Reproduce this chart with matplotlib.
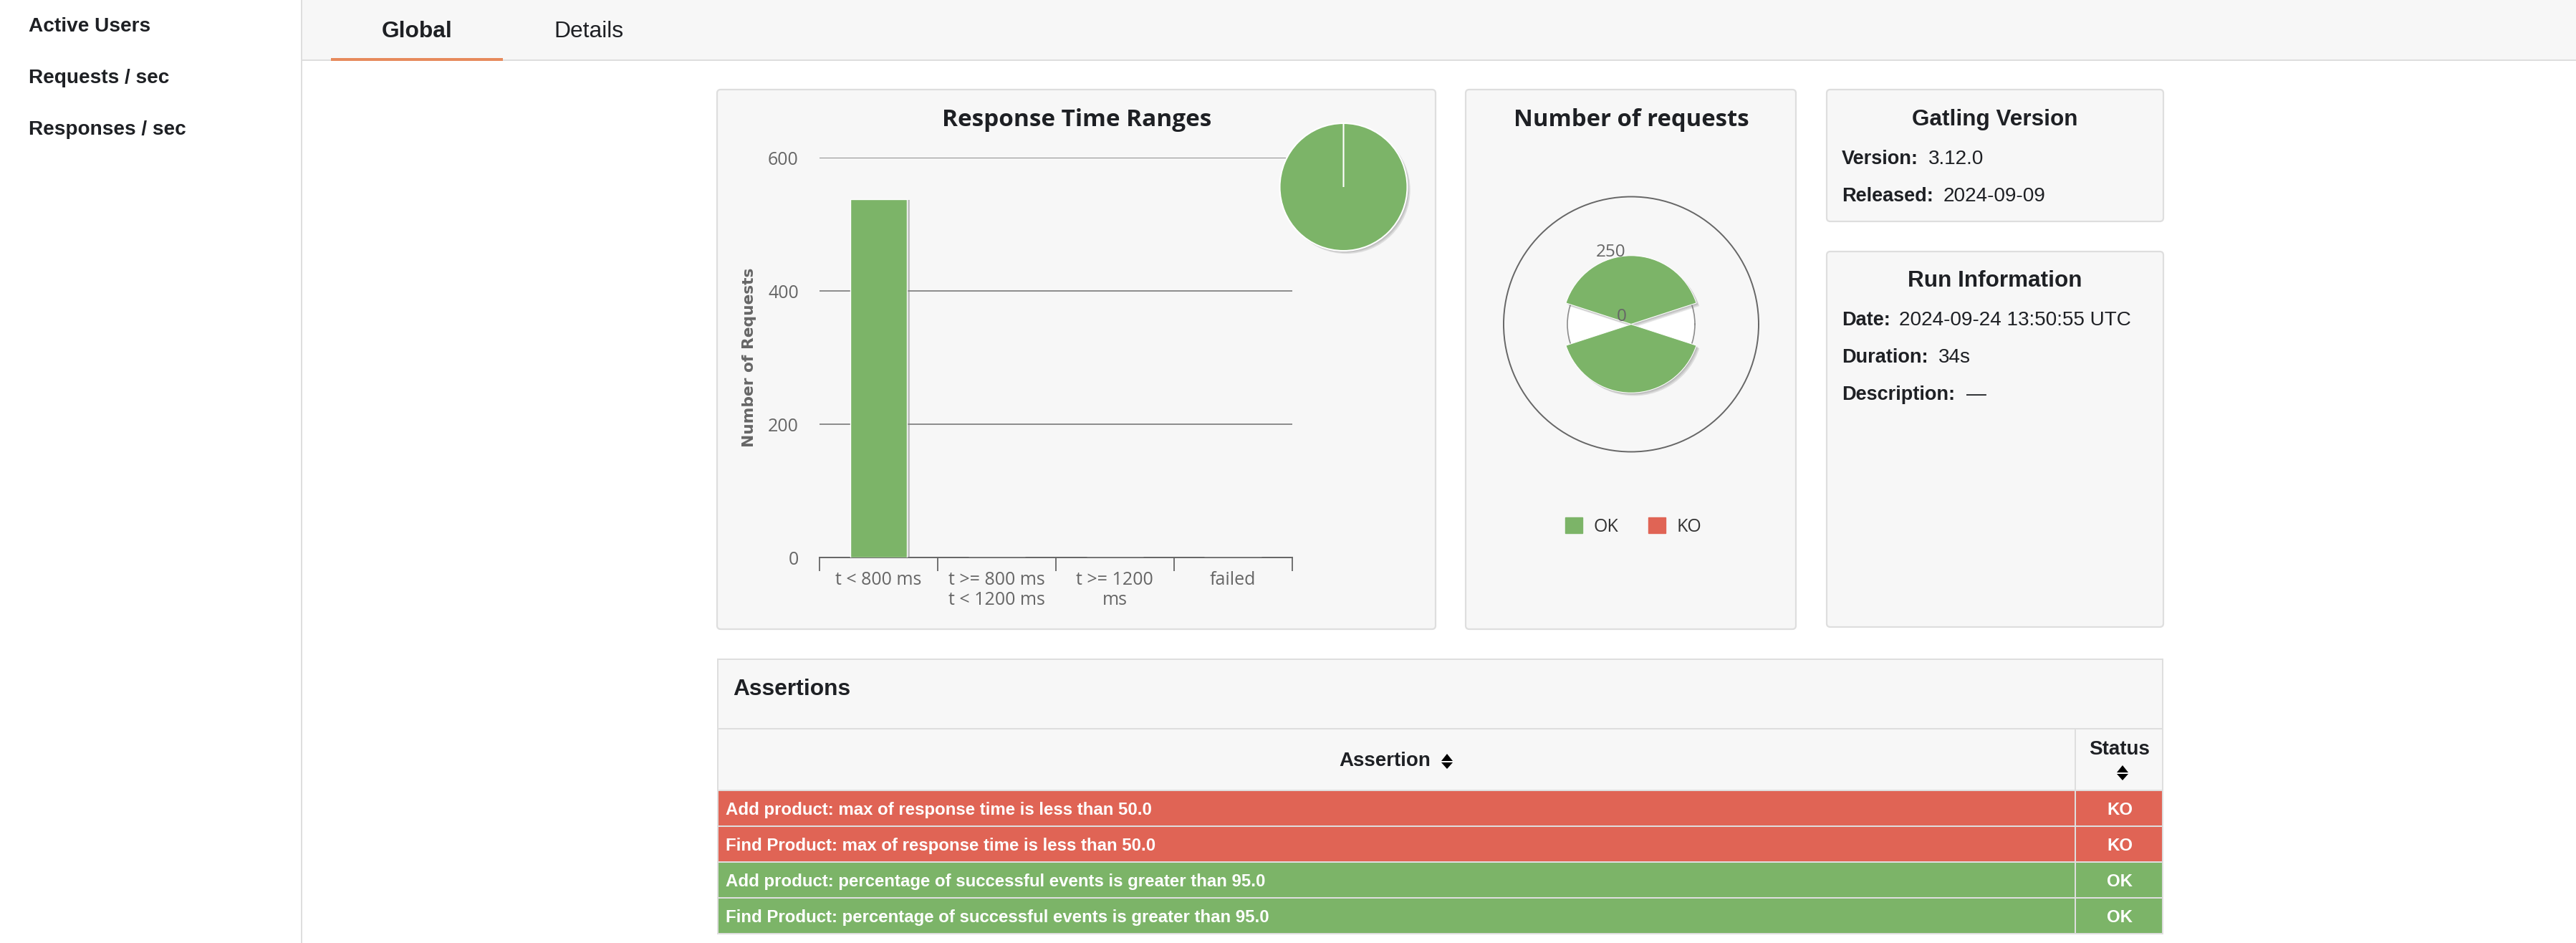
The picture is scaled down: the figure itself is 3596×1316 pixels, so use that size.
from matplotlib import pyplot as plt
from matplotlib.patches import Rectangle, FancyBboxPatch, Patch
import matplotlib.patheffects as pe
import numpy as np

W = 3596
H = 1316

# chart data
range_labels = ["t < 800 ms", "t >= 800 ms\nt < 1200 ms", "t >= 1200\nms", "failed"]
range_counts = [538, 0, 0, 0]
pie_counts = [538, 0]
request_angles = [90, 270]
request_counts = [269, 269]
legend_labels = ["OK", "KO"]

sidebar_items = ["Active Users", "Requests / sec", "Responses / sec"]
assertion_names = [
    "Add product: max of response time is less than 50.0",
    "Find Product: max of response time is less than 50.0",
    "Add product: percentage of successful events is greater than 95.0",
    "Find Product: percentage of successful events is greater than 95.0",
]
assertion_status = ["KO", "KO", "OK", "OK"]

GREEN = "#7CB468"
RED = "#E06455"
ORANGE = "#E78A5C"
CARD = "#F7F7F7"
LINE = "#DEDEDE"
DARK = "#1E2024"
GREY = "#666666"

plt.rcParams["font.family"] = ["Liberation Sans", "DejaVu Sans"]

# soft shadow, a few faint copies stacked
SOFT = [pe.SimplePatchShadow(offset=(k, -k), shadow_rgbFace="#777777", alpha=0.2) for k in (3, 2, 1)] + [pe.Normal()]


def box(x0, y0, x1, y1):
    # pixel box (y from the top) -> figure fraction rect
    return [x0 / W, 1 - y1 / H, (x1 - x0) / W, (y1 - y0) / H]


fig = plt.figure(figsize=(W / 100, H / 100), dpi=100, facecolor="white")

# page layer, works in plain pixels
bg = fig.add_axes([0, 0, 1, 1], zorder=0)
bg.set_xlim(0, W)
bg.set_ylim(H, 0)
bg.axis("off")


def rect(x0, y0, x1, y1, color, z=1):
    bg.add_patch(Rectangle((x0, y0), x1 - x0, y1 - y0, facecolor=color, edgecolor="none", zorder=z))


def card(x0, y0, x1, y1):
    bg.add_patch(FancyBboxPatch((x0 + 4, y0 + 4), x1 - x0 - 8, y1 - y0 - 8,
                                boxstyle="round,pad=4,rounding_size=5",
                                facecolor=CARD, edgecolor=LINE, linewidth=1.6, zorder=1))


def label(x, y, s, size=20, bold=False, color=DARK, ha="left", **kw):
    return bg.text(x, y, s, fontsize=size, fontweight="bold" if bold else "normal",
                   color=color, ha=ha, va="center_baseline", zorder=5, **kw)


def sort_arrows(x, y0, y1, y2, y3):
    bg.fill([x - 8, x + 8, x], [y1, y1, y0], color="black", zorder=5, lw=0)
    bg.fill([x - 8, x + 8, x], [y2, y2, y3], color="black", zorder=5, lw=0)


# header and sidebar
rect(422, 0, W, 83, CARD)
rect(422, 83, W, 85, LINE)
rect(420, 0, 422, H, LINE)
rect(462, 81, 702, 85, ORANGE, z=2)
label(582, 40, "Global", 22.9, True, ha="center")
label(822, 40, "Details", 22.9, ha="center")
for i, item in enumerate(sidebar_items):
    label(40, 34 + i * 72, item, 20.2, True)

# cards
card(1001, 125, 2004, 878)
card(2046, 125, 2507, 878)
card(2550, 125, 3020, 309)
card(2550, 351, 3020, 875)

label(1503, 164, "Response Time Ranges", 24, True, ha="center", family="Open Sans")
label(2277, 164, "Number of requests", 23.7, True, ha="center", family="Open Sans")
label(2785, 164, "Gatling Version", 22.7, True, ha="center")
label(2785, 389, "Run Information", 22.7, True, ha="center")

for y, key, x, val in [(219, "Version:", 2692, "3.12.0"),
                       (271, "Released:", 2713, "2024-09-09"),
                       (444, "Date:", 2651, "2024-09-24 13:50:55 UTC"),
                       (496, "Duration:", 2706, "34s"),
                       (548, "Description:", 2745, "\u2014")]:
    label(2571, y, key, 19.5, True)
    label(x, y, val, 20.1)

# assertions table
rect(1001, 919, 3020, 1304, LINE)
rect(1003, 921, 3018, 1016, CARD, z=2)
rect(1003, 1018, 2896, 1102, CARD, z=2)
rect(2898, 1018, 3018, 1102, CARD, z=2)
label(1023, 959, "Assertions", 22.9, True)
label(1869, 1059, "Assertion", 20, True)
sort_arrows(2020, 1052, 1062, 1064, 1073)
label(2959, 1043, "Status", 20, True, ha="center")
sort_arrows(2963, 1068, 1078, 1080, 1089)

for i, (name, status) in enumerate(zip(assertion_names, assertion_status)):
    top = 1104 + i * 50
    col = RED if status == "KO" else GREEN
    rect(1003, top, 2896, top + 48, col, z=2)
    rect(2898, top, 3018, top + 48, col, z=2)
    label(1013, top + 24, name, 17.28, True, color="white")
    label(2959, top + 24, status, 17.28, True, color="white", ha="center")

# response time ranges
ax = fig.add_axes(box(1144, 220, 1803.5, 778), zorder=2)
ax.patch.set_visible(False)
x = np.arange(len(range_labels))
ax.bar(x, range_counts, width=0.48, color=GREEN, edgecolor="white", linewidth=1, zorder=3,
       path_effects=[pe.SimplePatchShadow(offset=(3, -1), shadow_rgbFace="#888888", alpha=0.5), pe.Normal()])
ax.set_xlim(-0.5, 3.5)
ax.set_ylim(0, 600)
ax.set_yticks([0, 200, 400, 600])
ax.set_xticks(x)
ax.set_xticklabels(range_labels, family="Open Sans", fontsize=18, color=GREY, linespacing=1.15)
ax.set_xticks(np.arange(5) - 0.5, minor=True)
ax.tick_params(axis="x", which="major", length=0, pad=14)
ax.tick_params(axis="x", which="minor", length=14, width=1.3, color=GREY)
ax.tick_params(axis="y", length=0, pad=21, labelsize=18, labelcolor=GREY)
for t in ax.get_yticklabels():
    t.set_family("Open Sans")
    t.set_va("center_baseline")
ax.grid(axis="y", color="#8C8C8C", linewidth=1.4)
ax.set_axisbelow(True)
for side in ["top", "left", "right"]:
    ax.spines[side].set_visible(False)
ax.spines["bottom"].set_color(GREY)
ax.spines["bottom"].set_linewidth(1.4)
ax.set_ylabel("Number of Requests", family="DejaVu Sans", fontweight="bold", fontsize=15.7, color=GREY)
ax.yaxis.set_label_coords(-0.134, 0.5)

# little pie over the corner of the bar chart
pie_r = 89 * 1.25
pax = fig.add_axes(box(1875.5 - pie_r, 261 - pie_r, 1875.5 + pie_r, 261 + pie_r), zorder=3)
wedges, _ = pax.pie(pie_counts, colors=[GREEN, RED], startangle=90, counterclock=False,
                    wedgeprops={"edgecolor": "white", "linewidth": 1.5})
wedges[0].set_path_effects(SOFT)

# number of requests, polar columns
rax = fig.add_axes(box(2277 - 178, 452.5 - 178, 2277 + 178, 452.5 + 178), polar=True, zorder=2)
rax.patch.set_visible(False)
rax.bar(0, 250, width=2 * np.pi, color="white", zorder=1, edgecolor="none")
rax.bar(np.deg2rad(request_angles), request_counts, width=np.deg2rad(144), color=GREEN,
        edgecolor="white", linewidth=0.8, zorder=3, path_effects=SOFT)
rax.set_ylim(0, 500)
rax.set_yticks([250])
rax.set_yticklabels([])
rax.set_xticks([])
rax.grid(axis="y", color="#8C8C8C", linewidth=1.2, zorder=2)
rax.spines["polar"].set_color(GREY)
rax.spines["polar"].set_linewidth(1.4)
rax.annotate("250", xy=(np.pi / 2, 250), xytext=(-28.5, 11), textcoords="offset pixels",
             ha="center", va="center", family="Open Sans", fontsize=17.5, color=GREY, zorder=6)
rax.annotate("0", xy=(np.pi / 2, 0), xytext=(-13, 10), textcoords="offset pixels",
             ha="center", va="center", family="Open Sans", fontsize=17.5, color=GREY, zorder=6)

handles = [Patch(color=GREEN), Patch(color=RED)]
fig.legend(handles, legend_labels, ncols=2, loc="center", bbox_to_anchor=(2280 / W, 1 - 735 / H),
           frameon=False, prop={"family": "Open Sans", "size": 18}, labelcolor="#333333",
           handlelength=0.96, handleheight=0.96, handletextpad=0.6, columnspacing=1.7)

fig.savefig("out.png", dpi=100)
